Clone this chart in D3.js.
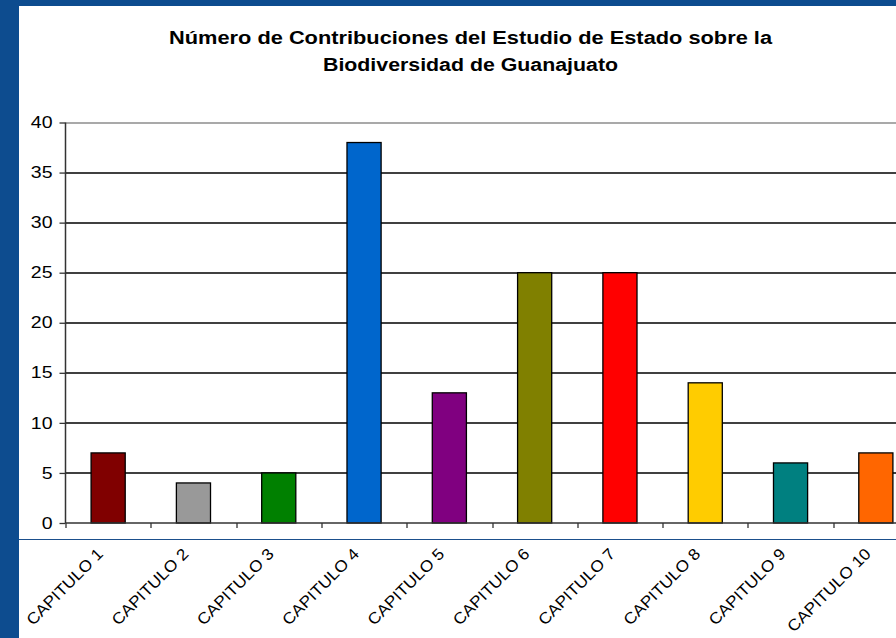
<!DOCTYPE html>
<html>
<head>
<meta charset="utf-8">
<script src="https://cdn.jsdelivr.net/npm/d3@7"></script>
<style>
  body { margin: 0; background: #0d4c8f; }
  svg { display: block; }
</style>
</head>
<body>
<div id="chart"></div>
<script>
// data
var capitulos = ["CAPITULO 1", "CAPITULO 2", "CAPITULO 3", "CAPITULO 4", "CAPITULO 5",
                 "CAPITULO 6", "CAPITULO 7", "CAPITULO 8", "CAPITULO 9", "CAPITULO 10"];
var contribuciones = [7, 4, 5, 38, 13, 25, 25, 14, 6, 7];
var colores = ["#800000", "#999999", "#008000", "#0066cc", "#800080",
               "#808000", "#ff0000", "#ffcc00", "#008080", "#ff6600"];
var yTicks = [0, 5, 10, 15, 20, 25, 30, 35, 40];
var titulo = ["Número de Contribuciones del Estudio de Estado sobre la",
              "Biodiversidad de Guanajuato"];

var W = 896, H = 638;
var font = "Liberation Sans, Arial, sans-serif";
var margin = {top: 122.5, left: 65.5},
    width = 853,
    height = 400.5;

var svg = d3.select("#chart")
  .append("svg")
    .attr("width", W)
    .attr("height", H);

// slide frame
svg.append("rect")
  .attr("width", W).attr("height", H)
  .attr("fill", "#0d4c8f");
svg.append("rect")
  .attr("x", 19).attr("y", 6)
  .attr("width", W - 19).attr("height", H - 6)
  .attr("fill", "#ffffff");
svg.append("line")
  .attr("x1", 19).attr("x2", W)
  .attr("y1", 539.5).attr("y2", 539.5)
  .attr("stroke", "#1b4f8c")
  .attr("stroke-width", 1.2);

// title (the source picture is a bit stretched sideways)
var titleWidths = [603, 295];
svg.selectAll(".title")
  .data(titulo)
  .join("text")
    .attr("class", "title")
    .attr("x", 470.5)
    .attr("y", function(d, i){ return 44 + i * 27 })
    .attr("font-family", font)
    .attr("font-size", 18)
    .attr("font-weight", "bold")
    .attr("text-anchor", "middle")
    .attr("textLength", function(d, i){ return titleWidths[i] })
    .attr("lengthAdjust", "spacingAndGlyphs")
    .text(function(d){ return d });

var g = svg.append("g")
  .attr("transform", "translate(" + margin.left + "," + margin.top + ")");

var x = d3.scaleBand()
  .domain(capitulos)
  .range([0, width])
  .paddingInner(0.6)
  .paddingOuter(0.3);

var y = d3.scaleLinear()
  .domain([0, 40])
  .range([height, 0]);

// gridlines
g.selectAll(".grid")
  .data(yTicks.filter(function(d){ return d > 0 }))
  .join("line")
    .attr("class", "grid")
    .attr("x1", 0).attr("x2", width)
    .attr("y1", function(d){ return Math.round(y(d)) + 0.5 })
    .attr("y2", function(d){ return Math.round(y(d)) + 0.5 })
    .attr("stroke", function(d){ return d == 40 ? "#8c8c8c" : "#000" })
    .attr("stroke-width", 1.3);

// bars
g.selectAll(".bar")
  .data(contribuciones)
  .join("rect")
    .attr("class", "bar")
    .attr("x", function(d, i){ return x(capitulos[i]) })
    .attr("y", function(d){ return y(d) })
    .attr("width", x.bandwidth())
    .attr("height", function(d){ return height - y(d) })
    .attr("fill", function(d, i){ return colores[i] })
    .attr("stroke", "#000")
    .attr("stroke-width", 1.3);

// y axis
var yAxis = g.append("g")
  .call(d3.axisLeft(y).tickValues(yTicks).tickSize(6).tickPadding(0).tickFormat(d3.format("d")));
yAxis.select(".domain").attr("stroke", "#333").attr("stroke-width", 1.5).attr("d", "M0,0V" + height);
yAxis.selectAll(".tick line").attr("stroke", "#333").attr("stroke-width", 1.3);
yAxis.selectAll("text")
  .attr("x", null)
  .attr("transform", "translate(-13,0) scale(1.22,1)")
  .attr("font-family", font)
  .attr("font-size", 16)
  .attr("fill", "#000");

// x axis: ticks on band edges
var edges = d3.range(capitulos.length + 1).map(function(i){ return i * x.step() });
var xAxis = g.append("g")
  .attr("transform", "translate(0," + height + ")");
xAxis.append("line")
  .attr("x1", 0).attr("x2", width)
  .attr("stroke", "#333").attr("stroke-width", 1.5);
xAxis.selectAll(".xt")
  .data(edges)
  .join("line")
    .attr("class", "xt")
    .attr("x1", function(d){ return Math.round(d) + 0.5 })
    .attr("x2", function(d){ return Math.round(d) + 0.5 })
    .attr("y1", 0).attr("y2", 5)
    .attr("stroke", "#333").attr("stroke-width", 1.3);
xAxis.selectAll(".xl")
  .data(capitulos)
  .join("text")
    .attr("class", "xl")
    .attr("font-family", font)
    .attr("font-size", 16)
    .attr("text-anchor", "end")
    .attr("transform", function(d){
      return "translate(" + (x(d) + x.bandwidth() / 2 - 4) + ",32) rotate(-45) scale(1.08,1)"
    })
    .text(function(d){ return d });
</script>
</body>
</html>
